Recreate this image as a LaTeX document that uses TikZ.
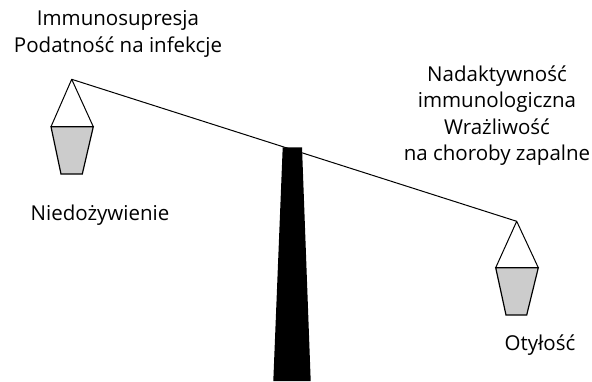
\documentclass[tikz,border=0pt]{standalone}
\usepackage{fontspec}
\setmainfont{Open Sans}
\begin{document}
\begin{tikzpicture}[x=1pt,y=-1pt,
  lbl/.style={font=\fontsize{20.5}{26.5}\selectfont, align=center, inner sep=0pt},
  pan/.style={draw=black, line width=1.2pt, fill=black!20},
  cord/.style={draw=black, line width=1pt, line join=round},
  beam/.style={draw=black, line width=1pt}]
\useasboundingbox (0,0) rectangle (592,381);
% pillar
\fill[black] (282.7,147.3) -- (302,147.3) -- (310.7,381) -- (273.3,381) -- cycle;
% beam
\coordinate (la) at (71.7,79.3);
\coordinate (ra) at (516.7,221.3);
\draw[beam] (la) -- (ra);
% left pan
\coordinate (ltl) at (51,126.7);
\coordinate (ltr) at (93.3,126.7);
\draw[pan] (ltl) -- (ltr) -- (82.3,174) -- (61,174) -- cycle;
\draw[cord] (ltl) -- (la) -- (ltr);
% right pan
\coordinate (rtl) at (495.7,267.7);
\coordinate (rtr) at (538.3,267.7);
\draw[pan] (rtl) -- (rtr) -- (526.7,315) -- (506,315) -- cycle;
\draw[cord] (rtl) -- (ra) -- (rtr);
% labels
\node[lbl] (t1) at (118,34) {Immunosupresja\\Podatność na infekcje};
\node[lbl] (t2) at (497,115.5) {Nadaktywność\\immunologiczna\\Wrażliwość\\na choroby zapalne};
\node[lbl] (t3) at (100,215) {Niedożywienie};
\node[lbl] (t4) at (540,345) {Otyłość};
\end{tikzpicture}
\end{document}
